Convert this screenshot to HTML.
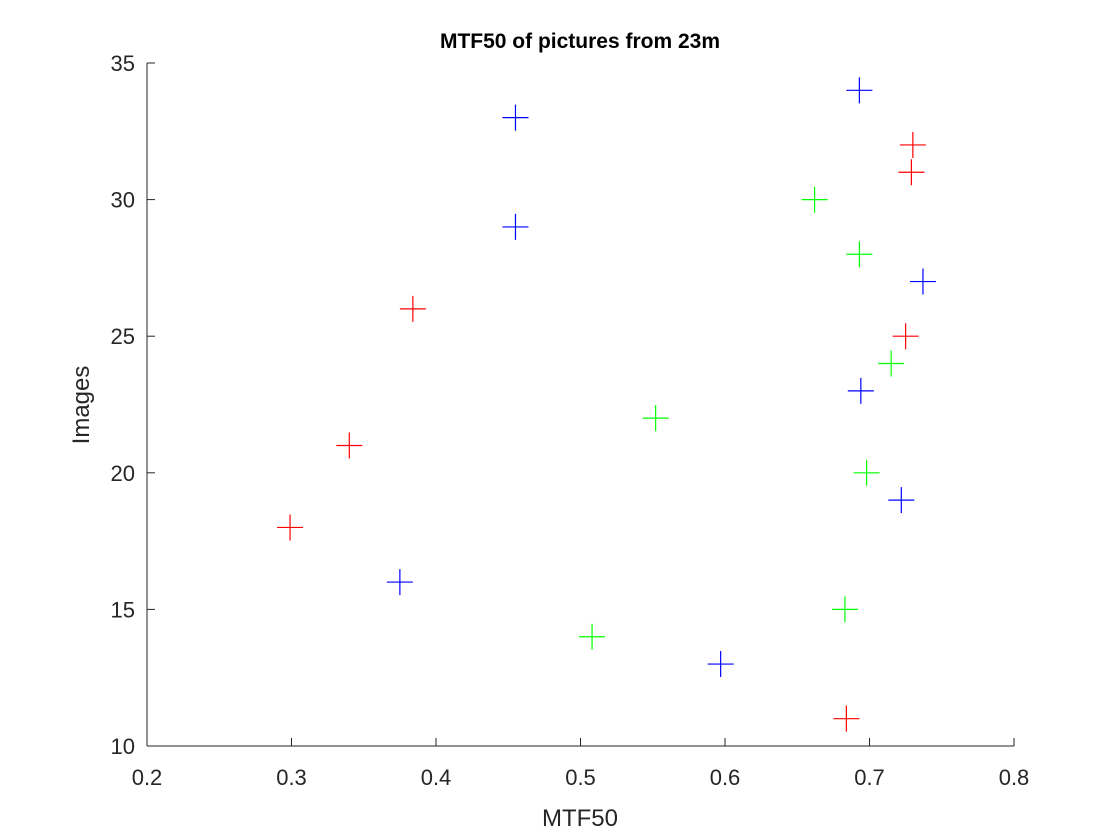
<!DOCTYPE html>
<html><head><meta charset="utf-8"><style>
html,body{margin:0;padding:0;background:#fff;}
svg{display:block;font-family:"Liberation Sans",Arial,sans-serif;}
</style></head><body>
<svg id="chart" width="1120" height="840"></svg>
<script>
const xTicks=[0.2,0.3,0.4,0.5,0.6,0.7,0.8];
const yTicks=[10,15,20,25,30,35];
const blueX=[0.693,0.455,0.455,0.737,0.694,0.722,0.375,0.597];
const blueY=[34,33,29,27,23,19,16,13];
const redX=[0.730,0.729,0.384,0.725,0.340,0.299,0.684];
const redY=[32,31,26,25,21,18,11];
const greenX=[0.662,0.693,0.715,0.552,0.698,0.683,0.508];
const greenY=[30,28,24,22,20,15,14];

const L=147,R=1014,T=63,B=746;
const xs=v=>L+(v-0.2)/0.6*(R-L);
const ys=v=>B-(v-10)/25*(B-T);
const svg=document.getElementById('chart');
const NS='http://www.w3.org/2000/svg';
function mk(tag,attrs,parent){const e=document.createElementNS(NS,tag);for(const k in attrs)e.setAttribute(k,attrs[k]);(parent||svg).appendChild(e);return e;}

const axisG=mk('g',{});


const xl=mk('line',{x1:L,y1:B,x2:R,y2:B,stroke:'#262626','stroke-width':1},axisG);


const yl=mk('line',{x1:L,y1:T,x2:L,y2:B,stroke:'#262626','stroke-width':1},axisG);



xTicks.forEach(v=>{
  const x=xs(v);
  const t=mk('line',{x1:x,y1:B,x2:x,y2:B-8,stroke:'#262626'},axisG);
  
  
  const tx=mk('text',{x:x,y:B+39,'text-anchor':'middle','font-size':22,fill:'#262626'},axisG);
  tx.textContent=v.toFixed(1);
  
  
});
yTicks.forEach(v=>{
  const y=ys(v);
  const t=mk('line',{x1:L,y1:y,x2:L+8,y2:y,stroke:'#262626'},axisG);
  
  
  const tx=mk('text',{x:L-12,y:y+8,'text-anchor':'end','font-size':22,fill:'#262626'},axisG);
  tx.textContent=v;
  
  
});

const title=mk('text',{x:580,y:48,'text-anchor':'middle','font-size':21,'font-weight':'bold',fill:'#000'});
title.textContent='MTF50 of pictures from 23m';


const xt=mk('text',{x:580,y:826,'text-anchor':'middle','font-size':24,fill:'#262626'});
xt.textContent='MTF50';


const yt=mk('text',{x:0,y:0,'text-anchor':'middle','font-size':24,fill:'#262626',transform:'translate(89,405) rotate(-90)'});
yt.textContent='Images';



function series(xa,ya,color,name){
  const g=mk('g',{stroke:color,'stroke-width':1.2});
  
  
  xa.forEach((v,i)=>{
    const x=xs(v),y=ys(ya[i]),s=13;
    const p=mk('path',{d:`M${x-s},${y}H${x+s}M${x},${y-s}V${y+s}`,fill:'none'},g);
    
    
  });
}
series(blueX,blueY,'#0000ff','blue');
series(redX,redY,'#ff0000','red');
series(greenX,greenY,'#00ff00','green');
</script>
</body></html>
